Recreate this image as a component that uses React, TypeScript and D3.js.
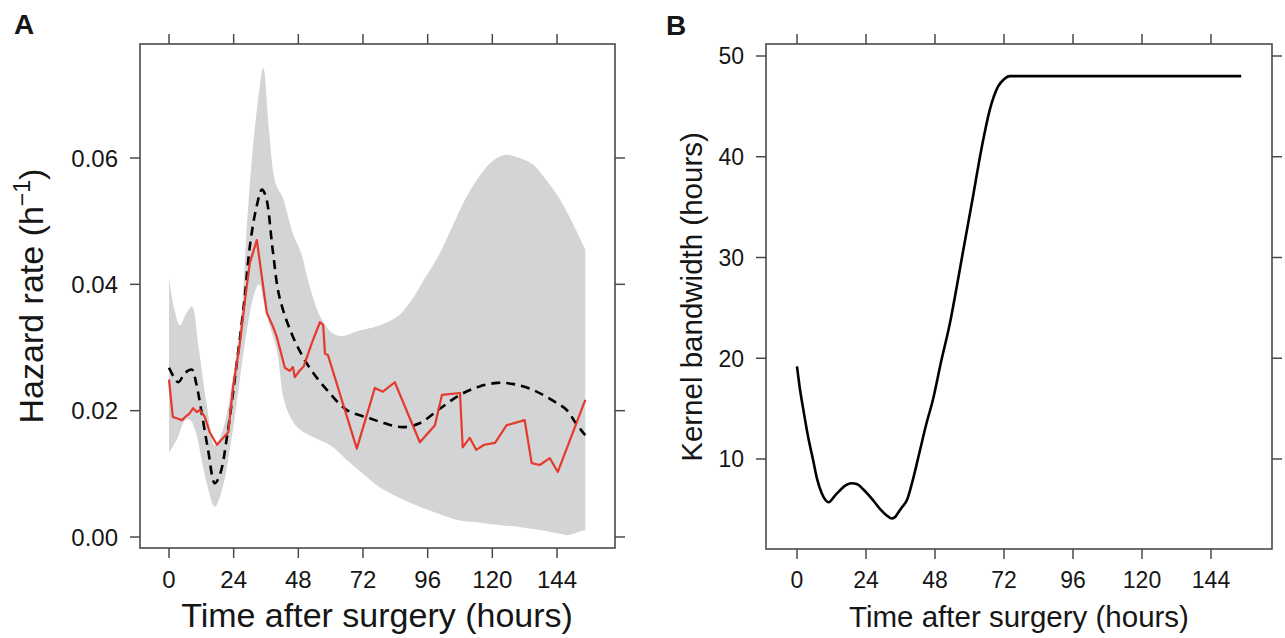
import React from 'react';
import * as d3 from 'd3';

// time axis (hours) and value ticks
const hourTicks = [0, 24, 48, 72, 96, 120, 144];
const hazardTicks = [0, 0.02, 0.04, 0.06];
const bandwidthTicks = [10, 20, 30, 40, 50];

// panel A: confidence band (upper / lower), smoothed estimate, raw estimate
const bandUpper: [number, number][] = [
  [0, 0.041], [2, 0.036], [4, 0.0335], [6.5, 0.0355], [8.5, 0.0365], [11, 0.03], [14, 0.021],
  [17, 0.0145], [20, 0.017], [24, 0.026], [27, 0.036], [29, 0.05], [31, 0.061], [33, 0.069],
  [35, 0.0743], [37, 0.065], [39, 0.057], [40.5, 0.055], [42, 0.054], [46, 0.048], [49, 0.045],
  [52, 0.04], [56, 0.035], [60, 0.0325], [64, 0.0318], [70, 0.0326], [78, 0.0335], [85, 0.035],
  [90, 0.0375], [95, 0.041], [100, 0.0445], [105, 0.049], [110, 0.0535], [115, 0.057],
  [120, 0.0595], [125, 0.0605], [130, 0.06], [135, 0.059], [140, 0.0565], [145, 0.0535],
  [150, 0.0495], [154.5, 0.0455],
];
const bandLower: [number, number][] = [
  [0, 0.0133], [3, 0.0155], [6, 0.0185], [8, 0.0185], [10, 0.0165], [12, 0.0125], [14, 0.0085],
  [17, 0.0048], [20, 0.008], [23, 0.015], [26, 0.024], [29, 0.033], [32, 0.039], [33.5, 0.04],
  [35, 0.0375], [37, 0.034], [40, 0.0296], [42.5, 0.022], [45, 0.019], [48, 0.0172], [55, 0.0155],
  [60, 0.0145], [66, 0.0122], [72, 0.01], [78, 0.0079], [85, 0.0063], [93, 0.0048], [100, 0.0037],
  [108, 0.0026], [115, 0.0023], [118, 0.0021], [125, 0.0018], [130, 0.0016], [138, 0.0011],
  [145, 0.0005], [148, 0.0003], [152, 0.0008], [154.5, 0.0011],
];
const smoothHazard: [number, number][] = [
  [0, 0.0268], [2, 0.0252], [3.5, 0.0245], [6, 0.026], [8.5, 0.0265], [10, 0.0245], [12, 0.02],
  [14.5, 0.0138], [17, 0.0085], [19, 0.01], [21.5, 0.0158], [25, 0.027], [28, 0.0375], [30, 0.046],
  [32.5, 0.0523], [34.5, 0.055], [36, 0.0538], [38.5, 0.0454], [41, 0.038], [46, 0.0317],
  [52, 0.0269], [58.6, 0.0233], [66, 0.0201], [74.5, 0.0188], [80, 0.018], [86.8, 0.0174],
  [93, 0.018], [100.5, 0.0203], [108, 0.0225], [115, 0.0238], [122, 0.0244], [128, 0.0242],
  [135, 0.0233], [142, 0.0217], [147.6, 0.0201], [151, 0.018], [154.5, 0.0161],
];
const rawHazard: [number, number][] = [
  [0, 0.0249], [1.4, 0.019], [2.9, 0.0188], [4.8, 0.0185], [6, 0.019], [7.5, 0.0195], [9, 0.0204],
  [10.3, 0.0198], [11.5, 0.0201], [13.3, 0.019], [15.2, 0.0165], [17.8, 0.0146], [22, 0.0166],
  [23.8, 0.0238], [26.3, 0.0307], [28.2, 0.0375], [30, 0.0434], [32.6, 0.047], [35, 0.0395],
  [36.3, 0.0355], [38.6, 0.0333], [40, 0.0317], [43, 0.0268], [44.8, 0.0263], [46, 0.0269],
  [46.7, 0.0253], [48.6, 0.0264], [50, 0.027], [53, 0.0307], [56, 0.034], [57.2, 0.0336],
  [57.9, 0.029], [59, 0.0288], [69.7, 0.014], [76.4, 0.0236], [79.4, 0.023], [83.8, 0.0245],
  [93.1, 0.015], [98.7, 0.0177], [101.3, 0.0225], [108, 0.0228], [109, 0.0142], [111.6, 0.0157],
  [114, 0.0138], [117, 0.0146], [121, 0.0149], [125.3, 0.0177], [132, 0.0185], [134.6, 0.0117],
  [137.6, 0.0114], [141.3, 0.0125], [144.3, 0.0103], [154.5, 0.0217],
];

// panel B: kernel bandwidth
const bandwidth: [number, number][] = [
  [0, 19.2], [1, 17], [2.2, 14.9], [4, 12], [5.6, 9.9], [7, 8], [8.6, 6.6], [10, 5.9], [11, 5.7],
  [13, 6.3], [15, 6.9], [17, 7.4], [19, 7.6], [21, 7.5], [23, 7.0], [26.5, 5.9], [29, 5.0],
  [31.2, 4.4], [33, 4.1], [34, 4.2], [35, 4.6], [36.5, 5.2], [38.2, 5.9], [40, 7.6], [42.8, 10.9],
  [45, 13.5], [47.3, 15.9], [50, 19.5], [53.2, 23.5], [56, 27.8], [58, 31], [61, 35.7],
  [64.3, 41], [67.1, 44.7], [70, 47], [72, 47.7], [74, 48], [100, 48], [130, 48], [154.5, 48],
];

const FONT = 'Liberation Sans, Arial, Helvetica, sans-serif';
const AXIS = '#4a4a4a';
const INK = '#161616';
const TICK = 10;

type Box = { left: number; right: number; top: number; bottom: number };

function Frame({ box, x, y, xTicks, yTicks, fmt, size }: {
  box: Box; x: d3.ScaleLinear<number, number>; y: d3.ScaleLinear<number, number>;
  xTicks: number[]; yTicks: number[]; fmt: (v: number) => string; size: number;
}) {
  return (
    <g>
      <rect x={box.left} y={box.top} width={box.right - box.left} height={box.bottom - box.top}
        fill="none" stroke={AXIS} strokeWidth={1.6} />
      {xTicks.map(t => (
        <g key={'x' + t}>
          <line x1={x(t)} x2={x(t)} y1={box.bottom} y2={box.bottom + TICK} stroke={AXIS} strokeWidth={1.5} />
          <line x1={x(t)} x2={x(t)} y1={box.top} y2={box.top - TICK} stroke={AXIS} strokeWidth={1.5} />
          <text x={x(t)} y={588} textAnchor="middle" fontSize={size} fill={INK}>{t}</text>
        </g>
      ))}
      {yTicks.map(t => (
        <g key={'y' + t}>
          <line x1={box.left} x2={box.left - TICK} y1={y(t)} y2={y(t)} stroke={AXIS} strokeWidth={1.5} />
          <line x1={box.right} x2={box.right + TICK} y1={y(t)} y2={y(t)} stroke={AXIS} strokeWidth={1.5} />
          <text x={box.left - 22} y={y(t)} dy="0.36em" textAnchor="end" fontSize={size} fill={INK}>{fmt(t)}</text>
        </g>
      ))}
    </g>
  );
}

export default function App() {
  // panel A scales
  const boxA: Box = { left: 140, right: 615, top: 44, bottom: 548 };
  const xA = d3.scaleLinear().domain([0, 144]).range([169, 557]);
  const yA = d3.scaleLinear().domain([0, 0.06]).range([537, 158]);

  // panel B scales
  const boxB: Box = { left: 766, right: 1272, top: 44, bottom: 549 };
  const xB = d3.scaleLinear().domain([0, 144]).range([797, 1211]);
  const yB = d3.scaleLinear().domain([10, 50]).range([459, 56]);

  const smoothA = d3.line<[number, number]>().x(d => xA(d[0])).y(d => yA(d[1])).curve(d3.curveCatmullRom.alpha(0.5));
  const up = smoothA(bandUpper) as string;
  const low = smoothA(bandLower.slice().reverse()) as string;
  const bandPath = up + 'L' + low.slice(1) + 'Z';

  const rawLine = d3.line<[number, number]>().x(d => xA(d[0])).y(d => yA(d[1]));
  const bwLine = d3.line<[number, number]>().x(d => xB(d[0])).y(d => yB(d[1])).curve(d3.curveMonotoneX);

  return (
    <svg width={1285} height={638} style={{ position: 'absolute', left: 0, top: 0, background: '#fff' }}
      fontFamily={FONT}>
      {/* Panel A */}
      <path d={bandPath} fill="#d3d4d6" />
      <path d={smoothA(smoothHazard) as string} fill="none" stroke="#000" strokeWidth={2.6} strokeDasharray="9,6" />
      <path d={rawLine(rawHazard) as string} fill="none" stroke="#e5392b" strokeWidth={2.2} strokeLinejoin="round" />
      <Frame box={boxA} x={xA} y={yA} xTicks={hourTicks} yTicks={hazardTicks} fmt={v => v.toFixed(2)} size={24} />
      <text x={377} y={627} textAnchor="middle" fontSize={34} fill={INK}>Time after surgery (hours)</text>
      <text transform="translate(43,296) rotate(-90)" textAnchor="middle" fontSize={34} fill={INK}>
        Hazard rate (h<tspan fontSize={23} dy={-13}>−1</tspan><tspan dy={13}>)</tspan>
      </text>
      <text x={14} y={34} fontSize={28} fontWeight="bold" fill={INK}>A</text>

      {/* Panel B */}
      <path d={bwLine(bandwidth) as string} fill="none" stroke="#000" strokeWidth={2.6} />
      <Frame box={boxB} x={xB} y={yB} xTicks={hourTicks} yTicks={bandwidthTicks} fmt={v => String(v)} size={23} />
      <text x={1019} y={627} textAnchor="middle" fontSize={29.5} fill={INK}>Time after surgery (hours)</text>
      <text transform="translate(702,297) rotate(-90)" textAnchor="middle" fontSize={29.5} fill={INK}>
        Kernel bandwidth (hours)
      </text>
      <text x={666} y={35} fontSize={28} fontWeight="bold" fill={INK}>B</text>
    </svg>
  );
}
